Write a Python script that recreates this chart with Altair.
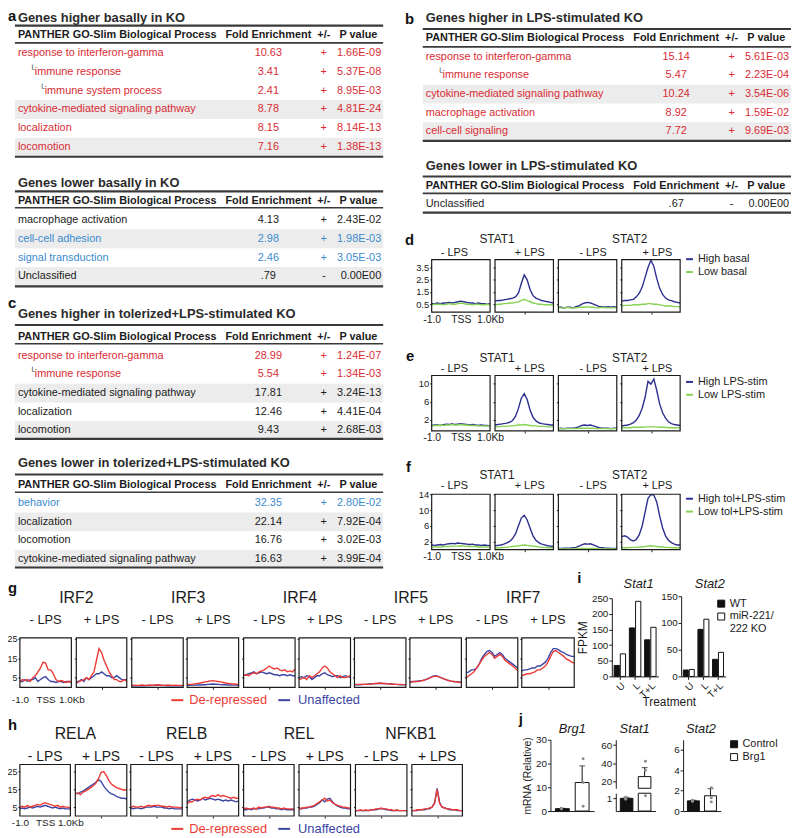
import altair as alt
import pandas as pd

FONT = "Liberation Sans"
OFF = 8
W, H = 792, 830
INK = "#1b1b1b"
RED_T = "#d92b33"
BLUE_T = "#3a8bcf"
SHADE = "#ececec"
RULE_C = "#3a3a3a"
NAVY = "#2c2f8e"
GREEN = "#86d253"
RED_L = "#ee3a35"
BLUE_L = "#3b45a3"
TW = 372

# ---------------- table values ----------------
a_terms = ["response to interferon-gamma", "immune response", "immune system process",
           "cytokine-mediated signaling pathway", "localization", "locomotion"]
a_level = [0, 1, 2, 0, 0, 0]
a_fold = ["10.63", "3.41", "2.41", "8.78", "8.15", "7.16"]
a_sign = ["+", "+", "+", "+", "+", "+"]
a_pval = ["1.66E-09", "5.37E-08", "8.95E-03", "4.81E-24", "8.14E-13", "1.38E-13"]
a_cat = ["up", "up", "up", "up", "up", "up"]

a2_terms = ["macrophage activation", "cell-cell adhesion", "signal transduction", "Unclassified"]
a2_level = [0, 0, 0, 0]
a2_fold = ["4.13", "2.98", "2.46", ".79"]
a2_sign = ["+", "+", "+", "-"]
a2_pval = ["2.43E-02", "1.98E-03", "3.05E-03", "0.00E00"]
a2_cat = ["none", "down", "down", "none"]

b_terms = ["response to interferon-gamma", "immune response", "cytokine-mediated signaling pathway",
           "macrophage activation", "cell-cell signaling"]
b_level = [0, 1, 0, 0, 0]
b_fold = ["15.14", "5.47", "10.24", "8.92", "7.72"]
b_sign = ["+", "+", "+", "+", "+"]
b_pval = ["5.61E-03", "2.23E-04", "3.54E-06", "1.59E-02", "9.69E-03"]
b_cat = ["up", "up", "up", "up", "up"]

b2_terms = ["Unclassified"]
b2_level = [0]
b2_fold = [".67"]
b2_sign = ["-"]
b2_pval = ["0.00E00"]
b2_cat = ["none"]

c_terms = ["response to interferon-gamma", "immune response", "cytokine-mediated signaling pathway",
           "localization", "locomotion"]
c_level = [0, 1, 0, 0, 0]
c_fold = ["28.99", "5.54", "17.81", "12.46", "9.43"]
c_sign = ["+", "+", "+", "+", "+"]
c_pval = ["1.24E-07", "1.34E-03", "3.24E-13", "4.41E-04", "2.68E-03"]
c_cat = ["up", "up", "none", "none", "none"]

c2_terms = ["behavior", "localization", "locomotion", "cytokine-mediated signaling pathway"]
c2_level = [0, 0, 0, 0]
c2_fold = ["32.35", "22.14", "16.76", "16.63"]
c2_sign = ["+", "+", "+", "+"]
c2_pval = ["2.80E-02", "7.92E-04", "3.02E-03", "3.99E-04"]
c2_cat = ["down", "none", "none", "none"]

# ---------------- profile values ----------------
XPOS = [-1000, -900, -800, -700, -600, -500, -400, -300, -200, -100, 0,
        100, 200, 300, 400, 500, 600, 700, 800, 900, 1000]

d_names = ["High basal", "Low basal"]
d_high = [
    [0.55, 0.55, 0.6, 0.55, 0.6, 0.6, 0.65, 0.6, 0.65, 0.7, 0.75, 0.7, 0.65, 0.6, 0.6, 0.55, 0.6, 0.55, 0.55, 0.5, 0.55],
    [0.75, 0.8, 0.8, 0.85, 0.9, 0.95, 1.0, 1.1, 1.4, 2.2, 2.9, 2.5, 1.7, 1.2, 1.0, 0.9, 0.8, 0.75, 0.7, 0.65, 0.6],
    [0.25, 0.25, 0.2, 0.25, 0.25, 0.2, 0.3, 0.35, 0.5, 0.6, 0.65, 0.6, 0.5, 0.4, 0.3, 0.3, 0.25, 0.3, 0.25, 0.3, 0.25],
    [0.75, 0.8, 0.8, 0.85, 0.9, 1.1, 1.4, 1.9, 2.7, 3.5, 4.1, 3.6, 2.6, 1.8, 1.3, 1.0, 0.85, 0.8, 0.7, 0.65, 0.6],
]
d_low = [
    [0.45, 0.5, 0.5, 0.5, 0.45, 0.5, 0.55, 0.5, 0.5, 0.55, 0.6, 0.55, 0.5, 0.5, 0.45, 0.5, 0.5, 0.45, 0.45, 0.5, 0.45],
    [0.45, 0.5, 0.5, 0.55, 0.55, 0.6, 0.6, 0.65, 0.7, 0.8, 0.9, 0.8, 0.7, 0.6, 0.55, 0.5, 0.5, 0.45, 0.45, 0.45, 0.45],
    [0.2, 0.2, 0.2, 0.25, 0.2, 0.2, 0.2, 0.25, 0.25, 0.25, 0.3, 0.25, 0.25, 0.2, 0.2, 0.25, 0.2, 0.2, 0.2, 0.2, 0.2],
    [0.35, 0.4, 0.4, 0.4, 0.45, 0.45, 0.45, 0.5, 0.5, 0.55, 0.55, 0.5, 0.5, 0.45, 0.4, 0.35, 0.35, 0.35, 0.3, 0.3, 0.3],
]
e_names = ["High LPS-stim", "Low LPS-stim"]
e_high = [
    [0.8, 0.9, 0.9, 0.8, 1.0, 1.1, 1.0, 1.2, 1.0, 1.1, 1.2, 1.1, 1.0, 0.9, 1.0, 0.9, 0.8, 0.9, 0.8, 0.8, 0.7],
    [0.9, 1.0, 1.1, 1.2, 1.3, 1.5, 1.9, 2.8, 4.5, 6.8, 7.8, 6.5, 4.2, 2.6, 1.8, 1.4, 1.2, 1.1, 1.0, 0.9, 0.9],
    [0.1, 0.2, 0.1, 0.2, 0.2, 0.2, 0.3, 0.5, 0.8, 0.9, 0.8, 0.9, 0.7, 0.5, 0.3, 0.2, 0.2, 0.2, 0.1, 0.2, 0.2],
    [0.7, 0.8, 0.9, 1.1, 1.4, 2.0, 3.0, 4.6, 7.0, 10.5, 9.9, 11.0, 8.5, 5.5, 3.6, 2.4, 1.6, 1.2, 1.0, 0.9, 0.8],
]
e_low = [
    [0.7, 0.8, 0.8, 0.9, 0.8, 0.9, 0.9, 1.0, 0.9, 0.9, 1.0, 0.9, 0.9, 0.8, 0.8, 0.8, 0.7, 0.7, 0.7, 0.7, 0.7],
    [0.5, 0.5, 0.6, 0.6, 0.6, 0.7, 0.7, 0.8, 0.9, 0.9, 1.0, 0.9, 0.8, 0.7, 0.7, 0.6, 0.6, 0.6, 0.5, 0.5, 0.5],
    [0.1, 0.1, 0.1, 0.1, 0.1, 0.1, 0.1, 0.2, 0.2, 0.2, 0.2, 0.2, 0.2, 0.1, 0.1, 0.1, 0.1, 0.1, 0.1, 0.1, 0.1],
    [0.3, 0.3, 0.3, 0.3, 0.4, 0.4, 0.4, 0.4, 0.5, 0.5, 0.5, 0.5, 0.5, 0.4, 0.4, 0.4, 0.3, 0.3, 0.3, 0.3, 0.3],
]
f_names = ["High tol+LPS-stim", "Low tol+LPS-stim"]
f_high = [
    [1.2, 1.1, 1.2, 1.3, 1.2, 1.4, 1.5, 1.6, 1.5, 1.7, 1.6, 1.5, 1.4, 1.3, 1.4, 1.2, 1.2, 1.1, 1.2, 1.1, 1.0],
    [1.0, 1.1, 1.2, 1.4, 1.7, 2.1, 2.8, 4.0, 6.0, 8.0, 8.7, 7.5, 5.5, 3.5, 2.4, 1.8, 1.4, 1.2, 1.0, 0.9, 0.8],
    [0.3, 0.3, 0.4, 0.4, 0.4, 0.5, 0.6, 0.9, 1.2, 1.5, 1.4, 1.5, 1.2, 0.9, 0.6, 0.5, 0.4, 0.4, 0.3, 0.3, 0.3],
    [3.3, 3.5, 3.2, 2.5, 2.2, 2.6, 3.8, 6.0, 9.5, 13.0, 13.9, 13.8, 12.0, 8.5, 5.5, 3.5, 2.4, 1.8, 1.4, 1.2, 1.2],
]
f_low = [
    [0.6, 0.7, 0.7, 0.7, 0.8, 0.8, 0.8, 0.9, 0.9, 0.9, 1.0, 0.9, 0.9, 0.8, 0.8, 0.8, 0.7, 0.7, 0.7, 0.7, 0.6],
    [0.4, 0.5, 0.5, 0.6, 0.6, 0.7, 0.8, 0.9, 1.0, 1.1, 1.2, 1.1, 1.0, 0.9, 0.8, 0.7, 0.6, 0.6, 0.5, 0.5, 0.5],
    [0.2, 0.2, 0.2, 0.2, 0.2, 0.2, 0.3, 0.3, 0.3, 0.3, 0.3, 0.3, 0.3, 0.3, 0.2, 0.2, 0.2, 0.2, 0.2, 0.2, 0.2],
    [0.5, 0.5, 0.5, 0.6, 0.6, 0.6, 0.7, 0.7, 0.8, 0.9, 1.0, 0.9, 0.8, 0.7, 0.7, 0.6, 0.6, 0.5, 0.5, 0.5, 0.5],
]

gh_names = ["Unaffected", "De-repressed"]
g_factors = ["IRF2", "IRF3", "IRF4", "IRF5", "IRF7"]
g_blue = [
    [3, 3, 4, 3, 4, 4, 5, 3, 4, 5, 5.5, 4, 3, 3, 2.5, 3, 3, 2.5, 3, 3, 2.5],
    [3, 3, 4, 3, 5, 4, 5, 6, 7, 7, 8, 7, 6, 6, 5, 5, 6, 5, 4, 4, 4],
    [0.8, 0.9, 0.8, 0.8, 0.9, 0.8, 0.9, 0.9, 0.9, 1, 1, 1, 0.9, 0.9, 0.8, 0.9, 0.8, 0.8, 0.8, 0.8, 0.8],
    [1, 1, 1.1, 1.1, 1.2, 1.2, 1.3, 1.3, 1.5, 1.6, 1.7, 1.6, 1.5, 1.4, 1.3, 1.3, 1.2, 1.2, 1.1, 1.1, 1],
    [6, 6.5, 7, 7.5, 8, 7, 7.5, 8, 7.5, 7, 7.5, 7, 6.5, 6.5, 6, 6.5, 6.5, 6, 6.5, 6, 6],
    [5, 5.5, 5, 6, 5.5, 4, 5, 6, 6, 7, 7.5, 6.5, 6, 5.5, 6, 6, 5, 5.5, 6, 5.5, 5],
    [1.3, 1.4, 1.3, 1.4, 1.5, 1.6, 1.7, 1.8, 1.9, 2, 2.1, 2, 1.9, 1.8, 1.7, 1.6, 1.5, 1.4, 1.3, 1.3, 1.3],
    [2.8, 3, 3, 3.2, 3.4, 3.6, 4, 4.5, 5.2, 5.8, 6, 5.6, 5, 4.5, 4, 3.6, 3.2, 3, 2.8, 2.8, 2.6],
    [7.5, 8, 9, 9, 10, 12, 15, 17, 18.5, 19, 18, 16, 17, 18, 17, 15, 14, 13, 12, 11, 10],
    [8.5, 9, 9, 9.5, 10, 10, 11, 11, 12, 13, 15, 18, 20, 20, 19.5, 18.5, 18, 17, 16.5, 16, 16],
]
g_red = [
    [3, 4, 3.5, 4, 3, 5, 6, 8, 10, 13, 12.5, 9, 9, 7, 4, 3, 3.5, 3, 2.5, 3, 3],
    [2, 3, 3.5, 4, 5, 4, 6, 8, 14, 20, 18, 14, 11, 8, 6, 4, 4, 3, 3, 4, 3],
    [1, 1, 1, 1, 1.2, 1, 1, 1.2, 1, 1.2, 1.3, 1.2, 1, 1, 1.2, 1, 1, 1.1, 1, 1, 1],
    [1.5, 1.5, 1.6, 1.8, 2, 2.2, 2.5, 2.8, 3, 3.3, 3.4, 3.2, 3, 2.8, 2.5, 2.2, 2, 1.8, 1.7, 1.6, 1.5],
    [6, 6.5, 6, 7, 7.5, 7, 8, 8.5, 9, 10, 11, 10, 9.5, 10, 9, 8.5, 9, 8, 8.5, 8, 9.5],
    [4, 4.5, 5, 4, 6, 5, 6, 7, 8, 10, 11, 10, 8, 7, 6, 5, 6, 5, 5, 5.5, 6],
    [1.5, 1.5, 1.5, 1.6, 1.5, 1.5, 1.7, 1.8, 2, 2, 2.2, 2, 2, 1.8, 1.7, 1.6, 1.5, 1.5, 1.5, 1.4, 1.4],
    [2.5, 2.8, 3, 3, 3.2, 3.5, 3.8, 4.3, 5, 5.5, 5.8, 5.5, 5, 4.5, 4, 3.5, 3.2, 3, 2.8, 2.6, 2.5],
    [5, 6, 7, 8, 10, 12, 14, 16, 17, 18, 17, 15, 16, 17, 16, 14, 13, 12, 11, 10, 8.5],
    [6, 6.5, 7, 7, 7.5, 8, 9, 9, 10, 11, 13, 16, 18.5, 19, 18, 17, 16, 14.5, 14, 13, 12.5],
]
h_factors = ["RELA", "RELB", "REL", "NFKB1"]
h_blue = [
    [4, 4.5, 4, 4.5, 5, 4.5, 5, 5.5, 5, 5.5, 6, 5.5, 5, 4.5, 5, 4.5, 4, 4.5, 4, 4, 4],
    [13, 12.5, 13.5, 14, 15, 16, 17, 18, 19, 20.5, 19.5, 17, 15, 13.5, 12.5, 12, 11, 10.5, 10, 10, 9.5],
    [4.5, 4, 4.5, 4.5, 4, 4.5, 5, 5, 5, 5.5, 5, 5, 5, 4.5, 4.5, 4, 4.5, 4, 4, 4, 4],
    [8, 9, 9.5, 9, 8.5, 9, 10, 9, 9.5, 10, 9.5, 9, 9.5, 9, 8.5, 9, 8.5, 9, 8.5, 8, 8.5],
    [3.5, 3.5, 4, 3.5, 4, 4, 4, 4.5, 4.5, 5, 5, 4.5, 4.5, 4, 4, 3.5, 4, 3.5, 3.5, 3.5, 3.5],
    [4, 4, 4.5, 4.5, 5, 5, 5.5, 6.5, 7.5, 9, 8, 9.5, 10, 8, 6.5, 5.5, 5, 4.5, 4.5, 4, 4],
    [3, 3, 3, 3, 3, 3, 3.5, 3.5, 3.5, 4, 4, 4, 3.5, 3.5, 3, 3, 3, 3, 3, 3, 3],
    [3, 3, 3, 3.5, 3.5, 3.5, 4, 4, 5, 7.5, 15.5, 7.5, 5, 4.5, 4, 3.5, 3.5, 3.5, 3, 3, 3],
]
h_red = [
    [5, 5.5, 5, 6, 5, 5.5, 6, 6.5, 6, 7, 7.5, 7, 6.5, 6, 5.5, 6, 5, 5.5, 5, 5, 4.5],
    [12.5, 13, 12, 13.5, 14, 15, 16, 17, 18.5, 21, 24.5, 25, 23, 20, 18, 17, 16, 15.5, 15, 14.5, 15],
    [5, 5.5, 5, 5, 5.5, 5, 5.5, 6, 5.5, 6, 6, 6, 5.5, 5.5, 5, 5.5, 5, 5, 5, 4.5, 5],
    [7, 8, 8, 9, 9.5, 9, 10, 10.5, 10, 11, 11.5, 11, 12, 11, 11.5, 11, 10.5, 10, 10.5, 10, 10],
    [4, 4.5, 4, 4, 4.5, 4, 5, 4.5, 5, 5, 5.5, 5, 5, 4.5, 4.5, 4, 4.5, 4, 4, 4, 4],
    [4, 4.5, 4.5, 5, 5, 5.5, 6, 7, 8, 9, 10, 8.5, 9, 7.5, 6.5, 6, 5.5, 5, 5, 4.5, 4.5],
    [3, 3, 3.5, 3, 3.5, 3, 3.5, 3.5, 4, 4, 4.5, 4, 4, 3.5, 3.5, 3, 3.5, 3, 3, 3, 3],
    [3, 3, 3.5, 3.5, 3.5, 4, 4, 4.5, 5, 7, 15, 7, 5, 4.5, 4, 4, 3.5, 3.5, 3.5, 3, 3],
]

# ---------------- bar values ----------------
i_treat = ["U", "L", "T+L"]
i_geno = ["WT", "KO"]
i_stat1_wt = [35, 155, 117]
i_stat1_ko = [72, 240, 157]
i_stat2_wt = [12, 88, 32]
i_stat2_ko = [13, 107, 45]

j_groups = ["Control", "Brg1"]
j_brg1_mean = [1.0, 12.0]
j_brg1_err = [0.15, 7.0]
j_brg1_reps = [[0.85, 1.0, 1.15], [2.0, 12.0, 22.0]]
j_stat1_mean = [1.0, 25.0]
j_stat1_err = [0.08, 10.0]
j_stat1_reps = [[0.92, 1.0, 1.08], [1.2, 32.0, 42.0]]
j_stat2_mean = [1.0, 1.5]
j_stat2_err = [0.06, 0.7]
j_stat2_reps = [[0.93, 1.0, 1.07], [0.9, 1.3, 2.3]]

ONE = pd.DataFrame({"k": [0]})


def px(x):
    return x - OFF


def py(y):
    return y - OFF


def label(s, x, y, size=11, weight="normal", align="left", color=INK, italic=False):
    kw = dict(text=s, fontSize=size, fontWeight=weight, align=align, baseline="middle",
              color=color, font=FONT)
    if italic:
        kw["fontStyle"] = "italic"
    return alt.Chart(ONE).mark_text(**kw).encode(x=alt.value(px(x)), y=alt.value(py(y)))


def hline(x0, x1, y, w=2.0, color=RULE_C):
    return alt.Chart(ONE).mark_rule(color=color, strokeWidth=w).encode(
        x=alt.value(px(x0)), x2=alt.value(px(x1)), y=alt.value(py(y)))


def table(x0, ys, title, terms, levels, folds, signs, pvals, cats):
    yt, yl1, yh, yl2, rt, rb, yl3 = ys
    n = len(terms)
    shade, grp = [], -1
    for lv in levels:
        if lv == 0:
            grp += 1
        shade.append(grp % 2)
    df = pd.DataFrame({"row": list(range(n)), "term": terms, "level": levels, "fold": folds,
                       "sign": signs, "pval": pvals, "cat": cats, "shade": shade})
    yenc = alt.Y("row:O", scale=alt.Scale(domain=list(range(n)), range=[py(rt), py(rb)],
                                          paddingInner=0, paddingOuter=0), axis=None)
    cenc = alt.Color("cat:N", scale=alt.Scale(domain=["up", "down", "none"],
                                              range=[RED_T, BLUE_T, INK]), legend=None)
    xlev = alt.X("level:Q", scale=alt.Scale(domain=[0, 1, 2], range=[px(x0 + 3), px(x0 + 20), px(x0 + 30)],
                                            nice=False, zero=False), axis=None)
    base = alt.Chart(df)
    txt = dict(baseline="middle", fontSize=11, font=FONT)
    parts = [
        base.transform_filter("datum.shade == 1").mark_rect(color=SHADE).encode(
            x=alt.value(px(x0)), x2=alt.value(px(x0 + TW)), y=yenc),
        base.mark_text(align="left", **txt).encode(x=xlev, y=yenc, text="term:N", color=cenc),
        base.transform_filter("datum.level > 0").mark_text(
            text="└", align="right", baseline="middle", fontSize=8, font="DejaVu Sans",
            color="#333333", dy=-2).encode(x=xlev, y=yenc),
        base.mark_text(align="center", **txt).encode(x=alt.value(px(x0 + 256)), y=yenc, text="fold:N", color=cenc),
        base.mark_text(align="center", **txt).encode(x=alt.value(px(x0 + 312)), y=yenc, text="sign:N", color=cenc),
        base.mark_text(align="right", **txt).encode(x=alt.value(px(x0 + 370)), y=yenc, text="pval:N", color=cenc),
        label(title, x0 + 3, yt, 13, "bold", color="#2a2a2a"),
        label("PANTHER GO-Slim Biological Process", x0 + 3, yh, 11, "bold"),
        label("Fold Enrichment", x0 + 256, yh, 11, "bold", align="center"),
        label("+/-", x0 + 312, yh, 11, "bold", align="center"),
        label("P value", x0 + 347, yh, 11, "bold", align="center"),
        hline(x0, x0 + TW, yl1, 2.2),
        hline(x0, x0 + TW, yl2, 1.6),
        hline(x0, x0 + TW, yl3, 2.2),
    ]
    return alt.layer(*parts)


def profile(series, names, colors, b0, b1, top, bot, ydom, yticks, first=False,
            legend=None, ylab=9.5, xlab=10.5, xpad=2, lw=1.4, yfmt=None):
    """Returns a flat list of layers (lines carrying the axes, plus the frame)."""
    rows = []
    for nm, vals in zip(names, series):
        for p, v in zip(XPOS, vals):
            rows.append({"pos": p, "val": v, "s": nm})
    df = pd.DataFrame(rows)
    xsc = alt.Scale(domain=[-1000, 1000], range=[px(b0), px(b1)], nice=False, zero=False)
    ysc = alt.Scale(domain=list(ydom), range=[py(bot), py(top)], nice=False, zero=False)
    if first:
        xax = alt.Axis(orient="bottom", offset=py(bot) - H, values=[-1000, 0, 1000],
                       labelExpr="datum.value < 0 ? '-1.0' : (datum.value > 0 ? '1.0Kb' : 'TSS')",
                       domain=False, ticks=False, tickSize=0, grid=False, title=None,
                       labelFontSize=xlab, labelFlush=False, labelPadding=xpad, labelOverlap=False)
    else:
        xax = alt.Axis(orient="bottom", offset=py(bot) - H, values=[0], labels=False,
                       domain=False, ticks=True, tickSize=2, grid=False, title=None)
    ykw = dict(orient="left", offset=-px(b0), values=yticks, domain=False, ticks=True,
               tickSize=2, grid=False, title=None, labelFontSize=ylab, labelPadding=1,
               labelOverlap=False, labels=first)
    if yfmt:
        ykw["format"] = yfmt
    yax = alt.Axis(**ykw)
    lines = alt.Chart(df).mark_line(strokeWidth=lw).encode(
        x=alt.X("pos:Q", scale=xsc, axis=xax),
        y=alt.Y("val:Q", scale=ysc, axis=yax),
        color=alt.Color("s:N", scale=alt.Scale(domain=names, range=colors), legend=legend))
    frame = alt.Chart(ONE).mark_rect(fillOpacity=0, stroke=INK, strokeWidth=1.2).encode(
        x=alt.XDatum(-1000, scale=xsc, axis=None), x2=alt.X2Datum(1000),
        y=alt.YDatum(ydom[0], scale=ysc, axis=None), y2=alt.Y2Datum(ydom[1]))
    return [lines, frame]


layers = []

# ---------------- tables ----------------
layers.append(table(15, (13.5, 21.5, 31, 39, 39.5, 154, 154), "Genes higher basally in KO",
                    a_terms, a_level, a_fold, a_sign, a_pval, a_cat))
layers.append(table(15, (181, 189, 199, 205.5, 208.5, 284.5, 285), "Genes lower basally in KO",
                    a2_terms, a2_level, a2_fold, a2_sign, a2_pval, a2_cat))
layers.append(table(427, (13.5, 25, 34, 43, 43.5, 138, 138), "Genes higher in LPS-stimulated KO",
                    b_terms, b_level, b_fold, b_sign, b_pval, b_cat))
layers.append(table(427, (163, 174, 184, 191, 193, 211, 210.5), "Genes lower in LPS-stimulated KO",
                    b2_terms, b2_level, b2_fold, b2_sign, b2_pval, b2_cat))
layers.append(table(15, (313, 324, 336, 343, 345.5, 440, 439), "Genes higher in tolerized+LPS-stimulated KO",
                    c_terms, c_level, c_fold, c_sign, c_pval, c_cat))
layers.append(table(15, (463, 475, 486, 493, 494.5, 570, 569), "Genes lower in tolerized+LPS-stimulated KO",
                    c2_terms, c2_level, c2_fold, c2_sign, c2_pval, c2_cat))

# ---------------- d, e, f ----------------
STAT_BOX = [(436, 495), (500, 559), (564, 623), (628, 687)]
LPS_TXT = ["- LPS", "+ LPS", "- LPS", "+ LPS"]
LPS_X = [459, 535, 599, 664]


def stat_row(high, low, names, top, bot, ydom, yticks, leg_y, stat_y, lps_y, yfmt=None):
    for k, (b0, b1) in enumerate(STAT_BOX):
        leg = None
        if k == 3:
            leg = alt.Legend(orient="none", legendX=px(691), legendY=py(leg_y), title=None,
                             symbolType="stroke", symbolSize=49, symbolStrokeWidth=2,
                             labelFontSize=11, labelFont=FONT, labelOffset=3, rowPadding=1,
                             padding=0, labelColor=INK)
        layers.extend(profile([high[k], low[k]], names, [NAVY, GREEN], b0, b1, top, bot, ydom,
                              yticks, k == 0, leg, yfmt=yfmt))
        layers.append(label(LPS_TXT[k], LPS_X[k], lps_y, 11, align="center"))
    layers.append(label("STAT1", 502, stat_y, 12, align="center"))
    layers.append(label("STAT2", 636, stat_y, 12, align="center"))


stat_row(d_high, d_low, d_names, 258, 311, (-0.15, 4.15), [0.5, 1.5, 2.5, 3.5], 252, 237, 251, ".1f")
stat_row(e_high, e_low, e_names, 375, 431, (-0.4, 11.8), [2, 6, 10], 376, 357, 368)
stat_row(f_high, f_low, f_names, 495, 551, (0, 14), [2, 6, 10, 14], 494, 476, 487)

# ---------------- g ----------------
G_BOX = [(20, 72), (77, 128), (133, 185), (189, 241), (246, 298), (302, 354),
         (358, 410), (414, 466), (471, 523), (527, 580)]
for k, (b0, b1) in enumerate(G_BOX):
    layers.extend(profile([g_blue[k], g_red[k]], gh_names, [BLUE_L, RED_L], b0, b1, 640, 690,
                          (0, 25.6), [5, 15, 25], k == 0, None,
                          ylab=9, xlab=10, xpad=7))
    layers.append(label(LPS_TXT[k % 2], (b0 + b1) / 2, 622, 13, align="center"))
for k, f in enumerate(g_factors):
    b0 = G_BOX[2 * k][0]
    b1 = G_BOX[2 * k + 1][1]
    layers.append(label(f, (b0 + b1) / 2 + 3, 600, 16, align="center"))
layers.append(hline(173, 185, 703, 2, RED_L))
layers.append(label("De-repressed", 191, 703, 13, color=RED_L))
layers.append(hline(281, 293, 703, 2, BLUE_L))
layers.append(label("Unaffected", 301, 703, 13, color=BLUE_L))

# ---------------- h ----------------
H_BOX = [(20, 71), (76, 128), (132, 184), (189, 241), (246, 297), (302, 354), (359, 411), (416, 467)]
for k, (b0, b1) in enumerate(H_BOX):
    layers.extend(profile([h_blue[k], h_red[k]], gh_names, [BLUE_L, RED_L], b0, b1, 768, 820,
                          (0, 29), [5, 15, 25], k == 0, None,
                          ylab=9, xlab=10, xpad=2))
    layers.append(label(LPS_TXT[k % 2], (b0 + b1) / 2, 760, 14, align="center"))
for k, f in enumerate(h_factors):
    b0 = H_BOX[2 * k][0]
    b1 = H_BOX[2 * k + 1][1]
    layers.append(label(f, (b0 + b1) / 2 + 2, 737, 16, align="center"))
layers.append(hline(173, 185, 833, 2, RED_L))
layers.append(label("De-repressed", 191, 833, 13, color=RED_L))
layers.append(hline(281, 293, 833, 2, BLUE_L))
layers.append(label("Unaffected", 301, 833, 13, color=BLUE_L))


# ---------------- i ----------------
def fpkm(wt, ko, ax0, ax1, y0, y1, ymax, yticks, ytitle, legend):
    df = pd.DataFrame({"t": i_treat + i_treat, "g": ["WT"] * 3 + ["KO"] * 3, "v": wt + ko})
    x = alt.X("t:N", sort=i_treat,
              scale=alt.Scale(domain=i_treat, range=[px(ax0), px(ax1)], paddingInner=0.25, paddingOuter=0.15),
              axis=alt.Axis(orient="bottom", offset=py(y0) - H, labelAngle=315, labelFontSize=10,
                            tickSize=3, title=None, grid=False, labelPadding=1))
    y = alt.Y("v:Q", scale=alt.Scale(domain=[0, ymax], range=[py(y0), py(y1)], nice=False),
              axis=alt.Axis(orient="left", offset=-px(ax0), values=yticks, tickSize=3, labelFontSize=10,
                            title=ytitle, titleFontSize=12, titleFontWeight="normal", titlePadding=2,
                            grid=False, labelPadding=1))
    xo = alt.XOffset("g:N", sort=i_geno, scale=alt.Scale(domain=i_geno, paddingInner=0.15))
    fill = alt.Fill("g:N", scale=alt.Scale(domain=i_geno, range=["#111111", "#ffffff"]), legend=legend)
    return alt.Chart(df).mark_bar(stroke="#111111", strokeWidth=1).encode(x=x, y=y, xOffset=xo, fill=fill)


i_leg = alt.Legend(orient="none", legendX=px(723), legendY=py(600), title=None, symbolType="square",
                   symbolSize=50, symbolStrokeColor="#111111", symbolStrokeWidth=1, labelFontSize=11,
                   labelFont=FONT, labelColor=INK, rowPadding=0, padding=0, labelOffset=3,
                   labelExpr="datum.label == 'KO' ? ['miR-221/', '222 KO'] : datum.label")
layers.append(fpkm(i_stat1_wt, i_stat1_ko, 618, 665, 679, 600, 250, [0, 50, 100, 150, 200, 250], "FPKM", None))
layers.append(fpkm(i_stat2_wt, i_stat2_ko, 688, 733, 679, 598, 150, [0, 50, 100, 150], None, i_leg))
layers.append(label("Stat1", 645, 586, 13, align="center", italic=True))
layers.append(label("Stat2", 717, 586, 13, align="center", italic=True))
layers.append(label("Treatment", 676, 705, 12, align="center"))


# ---------------- j ----------------
def jpanel(means, errs, reps, ax0, ax1, y0, y1, dom, ticks, ytitle=None, legend=None, xaxis=True):
    """Flat list of layers; every layer carries the same explicit scales."""
    lo, hi_d = dom
    bar_rows = [{"g": g, "top": min(m, hi_d), "bot": lo} for g, m in zip(j_groups, means) if m > lo]
    err_rows = [{"g": g, "m": m, "hi": min(m + e, hi_d)} for g, m, e in zip(j_groups, means, errs)
                if lo <= m <= hi_d]
    rep_rows = [{"g": g, "v": v} for g, rs in zip(j_groups, reps) for v in rs if lo <= v <= hi_d]
    xsc = alt.Scale(domain=j_groups, range=[px(ax0), px(ax1)], paddingInner=0.3, paddingOuter=0.25)
    ysc = alt.Scale(domain=[lo, hi_d], range=[py(y0), py(y1)], nice=False, zero=False)
    xax = None
    if xaxis:
        xax = alt.Axis(orient="bottom", offset=py(y0) - H, labels=False, ticks=False, title=None, grid=False)
    yax = alt.Axis(orient="left", offset=-px(ax0), values=ticks, tickSize=3, labelFontSize=10,
                   title=ytitle, titleFontSize=10.5, titleFontWeight="normal", titlePadding=3,
                   grid=False, labelPadding=1)
    out = [alt.Chart(pd.DataFrame(bar_rows)).mark_bar(stroke="#111111", strokeWidth=1).encode(
        x=alt.X("g:N", sort=j_groups, scale=xsc, axis=xax),
        y=alt.Y("top:Q", scale=ysc, axis=yax), y2="bot:Q",
        fill=alt.Fill("g:N", scale=alt.Scale(domain=j_groups, range=["#111111", "#ffffff"]), legend=legend))]
    if err_rows:
        edf = pd.DataFrame(err_rows)
        out.append(alt.Chart(edf).mark_rule(color="#111111", strokeWidth=1).encode(
            x=alt.X("g:N", scale=xsc, axis=None), y=alt.Y("m:Q", scale=ysc, axis=None), y2="hi:Q"))
        out.append(alt.Chart(edf).mark_tick(color="#111111", thickness=1, size=6).encode(
            x=alt.X("g:N", scale=xsc, axis=None), y=alt.Y("hi:Q", scale=ysc, axis=None)))
    if rep_rows:
        out.append(alt.Chart(pd.DataFrame(rep_rows)).mark_circle(size=9, color="#8c8c8c", opacity=1).encode(
            x=alt.X("g:N", scale=xsc, axis=None), y=alt.Y("v:Q", scale=ysc, axis=None)))
    return out


j_leg = alt.Legend(orient="none", legendX=px(736), legendY=py(742), title=None, symbolType="square",
                   symbolSize=50, symbolStrokeColor="#111111", symbolStrokeWidth=1, labelFontSize=11,
                   labelFont=FONT, labelColor=INK, rowPadding=0, padding=0, labelOffset=3)
layers.extend(jpanel(j_brg1_mean, j_brg1_err, j_brg1_reps, 556, 600, 815, 743, (0, 30), [0, 10, 20, 30],
                     "mRNA (Relative)", j_leg))
layers.extend(jpanel(j_stat1_mean, j_stat1_err, j_stat1_reps, 622, 662, 815, 797, (0, 1.4), [1]))
layers.extend(jpanel(j_stat1_mean, j_stat1_err, j_stat1_reps, 622, 662, 792, 743, (12, 66), [20, 40, 60],
                     xaxis=False))
layers.extend(jpanel(j_stat2_mean, j_stat2_err, j_stat2_reps, 690, 728, 815, 743, (0, 7), [0, 2, 4, 6]))
layers.append(label("Brg1", 578, 732, 13, align="center", italic=True))
layers.append(label("Stat1", 641, 732, 13, align="center", italic=True))
layers.append(label("Stat2", 708, 732, 13, align="center", italic=True))

# ---------------- panel letters ----------------
for s, x, y in [("a", 8, 12), ("b", 409, 15), ("c", 8, 302), ("d", 409, 238), ("e", 410, 355),
                ("f", 410, 468), ("g", 8, 590), ("h", 8, 728), ("i", 583, 580), ("j", 524, 722)]:
    layers.append(label(s, x, y, 15, "bold", color="#111111"))

chart = alt.layer(*layers).resolve_scale(
    x="independent", y="independent", color="independent", fill="independent", xOffset="independent"
).properties(
    width=W, height=H, autosize="none", padding=0
).configure_view(strokeWidth=0).configure_axis(
    labelFont=FONT, titleFont=FONT, labelColor=INK, domainColor=INK, tickColor=INK, titleColor=INK
).configure_legend(labelFont=FONT)

chart.save("out.html", embed_options={"renderer": "svg", "actions": False})
